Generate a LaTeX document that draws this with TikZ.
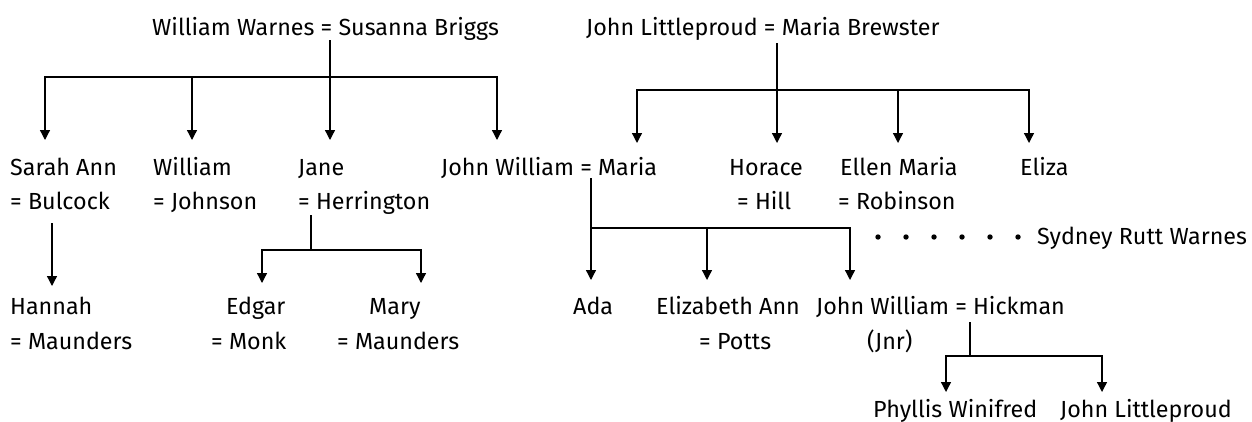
\documentclass[tikz,border=0pt]{standalone}
\usepackage{fontspec}
\setmainfont{Fira Sans}
\usetikzlibrary{arrows.meta}
\begin{document}
\begin{tikzpicture}[x=1pt,y=-1pt,
  lbl/.style={anchor=base west, inner sep=0pt, font=\fontsize{23.3}{27}\selectfont},
  conn/.style={line width=1.3pt, black},
  arr/.style={conn, -{Triangle[width=10pt,length=10pt]}}]
\useasboundingbox (0,0) rectangle (1252,421);
% row 1
\node[lbl] (ww) at (152,35) {William Warnes = Susanna Briggs};
\node[lbl] (jl) at (586,35) {John Littleproud = Maria Brewster};
% row 2
\node[lbl] (sarah) at (10,175) {Sarah Ann};
\node[lbl] (bulcock) at (10,209) {= Bulcock};
\node[lbl] (william) at (153,175) {William};
\node[lbl] (johnson) at (153,209) {= Johnson};
\node[lbl] (jane) at (298,175) {Jane};
\node[lbl] (herr) at (298,209) {= Herrington};
\node[lbl] (jwm) at (441,175) {John William = Maria};
\node[lbl] (horace) at (729,175) {Horace};
\node[lbl] (hill) at (737,209) {= Hill};
\node[lbl] (ellen) at (840,175) {Ellen Maria};
\node[lbl] (robinson) at (838,209) {= Robinson};
\node[lbl] (eliza) at (1020,175) {Eliza};
% row 3
\node[lbl] (hannah) at (10,314) {Hannah};
\node[lbl] (maunders1) at (10,349) {= Maunders};
\node[lbl] (edgar) at (226,314) {Edgar};
\node[lbl] (monk) at (211,349) {= Monk};
\node[lbl] (mary) at (369,314) {Mary};
\node[lbl] (maunders2) at (337,349) {= Maunders};
\node[lbl] (ada) at (573,314) {Ada};
\node[lbl] (eliz) at (656,314) {Elizabeth Ann};
\node[lbl] (potts) at (699,349) {= Potts};
\node[lbl] (jwh) at (816,314) {John William = Hickman};
\node[lbl] (jnr) at (867,349) {(Jnr)};
% row 4
\node[lbl] (phyllis) at (873,417) {Phyllis Winifred};
\node[lbl] (jlit) at (1060,417) {John Littleproud};
% dotted link
\node[lbl] (sydney) at (1037,244) {Sydney Rutt Warnes};
\foreach \i in {0,...,5} \fill (878+28*\i,237) circle (2.7pt);
% left tree
\coordinate (wwd) at (330,40); \coordinate (wwj) at (330,77);
\coordinate (t1) at (45,140); \coordinate (t2) at (192,140);
\coordinate (t3) at (330,140); \coordinate (t4) at (497,140);
\draw[arr] (wwd) -- (t3);
\draw[arr] (wwj) -| (t1);
\draw[arr] (wwj) -| (t4);
\draw[arr] (t2 |- wwj) -- (t2);
% right tree
\coordinate (jld) at (777,43); \coordinate (jlj) at (777,90);
\coordinate (r1) at (637,143); \coordinate (r2) at (777,143);
\coordinate (r3) at (898,143); \coordinate (r4) at (1029,143);
\draw[arr] (jld) -- (r2);
\draw[arr] (jlj) -| (r1);
\draw[arr] (jlj) -| (r4);
\draw[arr] (r3 |- jlj) -- (r3);
% Bulcock
\coordinate (bd) at (52,223); \coordinate (b1) at (52,286);
\draw[arr] (bd) -- (b1);
% Herrington
\coordinate (jd) at (311,215); \coordinate (jj) at (311,250);
\coordinate (e1) at (262,283); \coordinate (e2) at (421,283);
\draw[conn] (jd) -- (jj);
\draw[arr] (jj) -| (e1);
\draw[arr] (jj) -| (e2);
% Maria
\coordinate (md) at (591,178); \coordinate (mj) at (591,228);
\coordinate (m1) at (591,280); \coordinate (m2) at (707,280); \coordinate (m3) at (850,280);
\draw[arr] (md) -- (m1);
\draw[arr] (mj) -| (m3);
\draw[arr] (m2 |- mj) -- (m2);
% Hickman
\coordinate (hd) at (970,322); \coordinate (hj) at (970,356);
\coordinate (h1) at (946,392); \coordinate (h2) at (1102,392);
\draw[conn] (hd) -- (hj);
\draw[arr] (hj) -| (h1);
\draw[arr] (hj) -| (h2);
\end{tikzpicture}
\end{document}
